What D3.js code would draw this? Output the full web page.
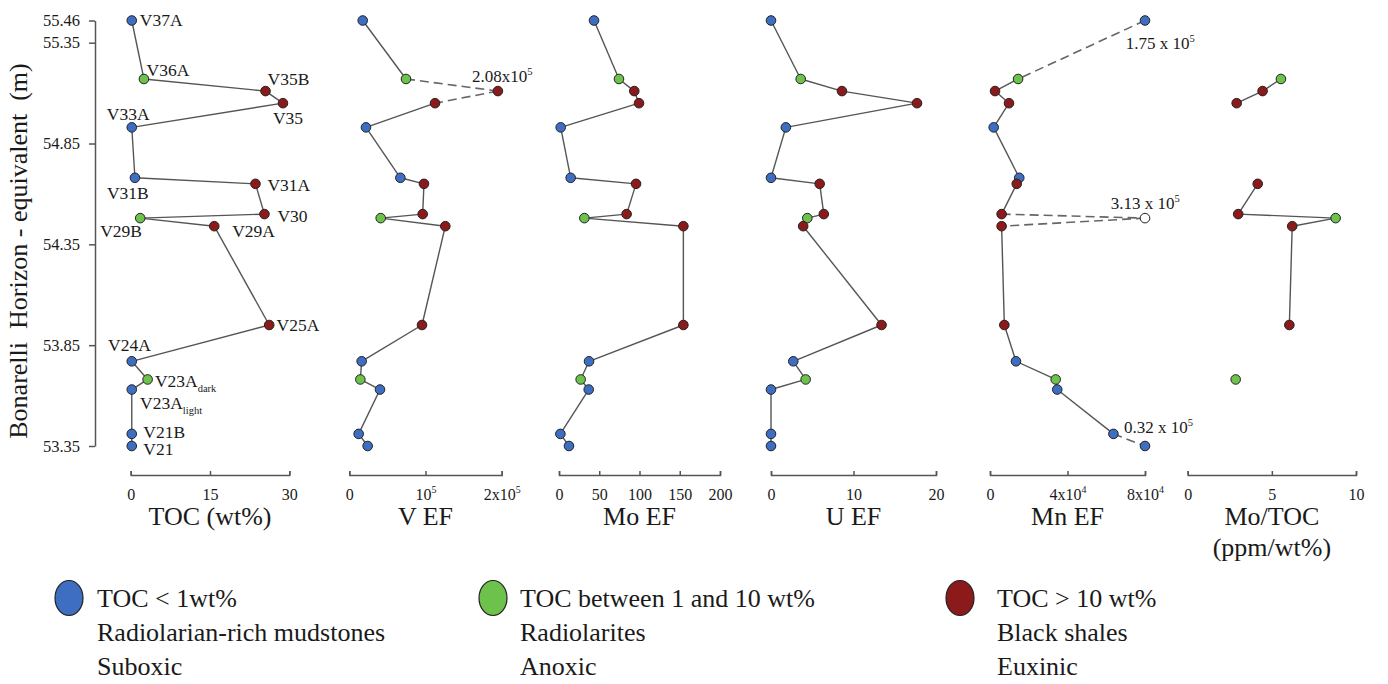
<!DOCTYPE html>
<meta charset="utf-8">
<head>
  <style>
    body { margin: 0; background: #fff; }
    svg text { font-family: "Liberation Serif", "Times New Roman", serif; fill: #1a1a1a; }
    .axis path, .axis line { stroke: #555; stroke-width: 1.5; fill: none; }
    .axis text { font-size: 16px; font-family: "Liberation Serif", serif; fill: #1a1a1a; }
    .seg { fill: none; stroke: #555; stroke-width: 1.4; }
    .dash { stroke-dasharray: 9,5; stroke-width: 1.6; stroke: #666; }
    .dot { stroke: #222; stroke-width: 1; }
    .lbl { font-size: 17.5px; }
    .title { font-size: 26px; }
    .legend { font-size: 26px; }
  </style>
  <script src="https://d3js.org/d3.v7.min.js"></script>
</head>
<body>
  <svg width="1388" height="684"></svg>
  <script>

    // samples, top to bottom
    var samples = ["V37A","V36A","V35B","V35","V33A","V31B","V31A","V30","V29B","V29A","V25A","V24A","V23A_dark","V23A_light","V21B","V21"]
    var depth = [55.46, 55.17, 55.11, 55.05, 54.93, 54.68, 54.65, 54.50, 54.48, 54.44, 53.95, 53.77, 53.68, 53.63, 53.41, 53.35]
    var toc   = [0.2, 2.5, 25.5, 28.8, 0.2, 0.8, 23.6, 25.3, 1.8, 15.8, 26.2, 0.2, 3.2, 0.2, 0.2, 0.2]
    var vEF   = [17600, 74400, 195000, 112500, 21900, 67000, 98000, 96300, 41200, 126000, 95400, 16200, 14500, 40300, 12300, 24100]
    var moEF  = [43.5, 74.5, 93.5, 99.4, 2.1, 14.5, 95.7, 84, 31.5, 154.5, 154.5, 37.3, 26.9, 36.9, 1.7, 12.4]
    var uEF   = [0, 3.6, 8.6, 17.7, 1.8, 0, 5.9, 6.4, 4.4, 3.9, 13.4, 2.7, 4.2, 0, 0, 0]
    var mnEF  = [80000, 14500, 2600, 9800, 1900, 15100, 13800, 6000, 80000, 6000, 7400, 13400, 33900, 34700, 63700, 80000]
    var moToc = [null, 5.54, 4.45, 2.91, null, null, 4.16, 3.0, 8.79, 6.21, 6.04, null, 2.85, null, null, null]

    var depthTicks = [55.46, 55.35, 54.85, 54.35, 53.85, 53.35]

    var tocTicks = [0, 15, 30],           tocTickLabels = ["0", "15", "30"]
    var vTicks = [0, 100000, 200000],     vTickLabels = ["0", "10^5", "2x10^5"]
    var moTicks = [0, 50, 100, 150, 200], moTickLabels = ["0", "50", "100", "150", "200"]
    var uTicks = [0, 10, 20],             uTickLabels = ["0", "10", "20"]
    var mnTicks = [0, 40000, 80000],      mnTickLabels = ["0", "4x10^4", "8x10^4"]
    var mtTicks = [0, 5, 10],             mtTickLabels = ["0", "5", "10"]

    var classNames = [
      ["TOC < 1wt%", "Radiolarian-rich mudstones", "Suboxic"],
      ["TOC between 1 and 10 wt%", "Radiolarites", "Anoxic"],
      ["TOC > 10 wt%", "Black shales", "Euxinic"]
    ]
    var colors = ["#3d6ec2", "#6dc24b", "#8c1a1a"]

    // off-scale values written next to the points
    var notes = [
      {panel: 1, i: 2, text: "2.08x10^5"},
      {panel: 4, i: 0, text: "1.75 x 10^5"},
      {panel: 4, i: 8, text: "3.13 x 10^5"},
      {panel: 4, i: 15, text: "0.32 x 10^5"}
    ]

    // ---- layout ----
    var svg = d3.select("svg")
    var axisY = 475

    var y = d3.scaleLinear().domain([53.35, 55.46]).range([446, 20.5])

    var panels = [
      {values: toc,   domain: [0, 30],     range: [130.7, 289.3], ticks: tocTicks, tickLabels: tocTickLabels, title: ["TOC (wt%)"], dashed: [], hollow: []},
      {values: vEF,   domain: [0, 200000], range: [349.3, 501.7], ticks: vTicks,   tickLabels: vTickLabels,   title: ["V EF"], dashed: [1, 2], hollow: []},
      {values: moEF,  domain: [0, 200],    range: [559, 720],     ticks: moTicks,  tickLabels: moTickLabels,  title: ["Mo EF"], dashed: [], hollow: []},
      {values: uEF,   domain: [0, 20],     range: [771, 936],     ticks: uTicks,   tickLabels: uTickLabels,   title: ["U EF"], dashed: [], hollow: []},
      {values: mnEF,  domain: [0, 80000],  range: [990, 1145],    ticks: mnTicks,  tickLabels: mnTickLabels,  title: ["Mn EF"], dashed: [0, 7, 8, 14], hollow: [8]},
      {values: moToc, domain: [0, 10],     range: [1187.7, 1356], ticks: mtTicks,  tickLabels: mtTickLabels,  title: ["Mo/TOC", "(ppm/wt%)"], dashed: [], hollow: []}
    ]

    // label offsets from the point in the TOC panel: [dx, dy]
    var labelOffsets = {
      "V37A": [8, 5.5], "V36A": [2.7, -3], "V35B": [2, -5.7], "V35": [-10, 20.7],
      "V33A": [-25, -7.7], "V31B": [-28, 21], "V31A": [12, 6.7], "V30": [13, 8],
      "V29B": [-40, 19], "V29A": [18, 11], "V25A": [7.4, 5.7], "V24A": [-23.7, -10.3],
      "V23A_dark": [7.3, 7.7], "V23A_light": [8.3, 19], "V21B": [11.6, 4], "V21": [11.6, 9.3]
    }
    var noteOffsets = [[-26, -8.7], [-19.3, 28.8], [-34.3, -9.4], [-21, -13]]

    function cls(i) { return toc[i] < 1 ? 0 : (toc[i] <= 10 ? 1 : 2) }

    // write "a^b" as a with superscript b
    function supText(sel, s, size) {
      var p = s.split("^")
      sel.text(null)
      sel.append("tspan").text(p[0])
      if (p.length > 1) {
        sel.append("tspan").attr("font-size", size * 0.62).attr("dy", -size * 0.42).text(p[1])
      }
    }

    // y axis
    svg.append("g")
      .attr("class", "axis")
      .attr("transform", "translate(95,0)")
      .call(d3.axisLeft(y).tickValues(depthTicks).tickFormat(d3.format(".2f")).tickSize(6).tickSizeOuter(0).tickPadding(9))
      .selectAll("text").style("font-size", "16.5px")

    svg.append("text")
      .attr("class", "title")
      .attr("transform", "translate(27,251) rotate(-90)")
      .attr("text-anchor", "middle")
      .style("white-space", "pre")
      .text("Bonarelli  Horizon - equivalent  (m)")

    panels.forEach(function(p, k) {
      var x = d3.scaleLinear().domain(p.domain).range(p.range)
      var g = svg.append("g")

      var ax = g.append("g")
        .attr("class", "axis")
        .attr("transform", "translate(0," + axisY + ")")
        .call(d3.axisBottom(x).tickValues(p.ticks).tickSizeInner(-4).tickSizeOuter(-4).tickPadding(13.6))
      ax.selectAll(".tick text").each(function(d, j) { supText(d3.select(this), p.tickLabels[j], 16) })

      p.title.forEach(function(t, j) {
        g.append("text")
          .attr("class", "title")
          .attr("x", (p.range[0] + p.range[1]) / 2)
          .attr("y", 525 + j * 31)
          .attr("text-anchor", "middle")
          .text(t)
      })

      // segments between successive samples
      for (var i = 0; i < samples.length - 1; i++) {
        if (p.values[i] == null || p.values[i + 1] == null) continue
        g.append("line")
          .attr("class", p.dashed.indexOf(i) >= 0 ? "seg dash" : "seg")
          .attr("x1", x(p.values[i])).attr("y1", y(depth[i]))
          .attr("x2", x(p.values[i + 1])).attr("y2", y(depth[i + 1]))
      }

      g.selectAll("circle")
        .data(d3.range(samples.length).filter(function(i) { return p.values[i] != null }))
        .enter().append("circle")
        .attr("class", "dot")
        .attr("cx", function(i) { return x(p.values[i]) })
        .attr("cy", function(i) { return y(depth[i]) })
        .attr("r", 4.8)
        .attr("fill", function(i) { return p.hollow.indexOf(i) >= 0 ? "#fff" : colors[cls(i)] })

      p.x = x
    })

    // sample labels
    samples.forEach(function(s, i) {
      var o = labelOffsets[s]
      var t = svg.append("text")
        .attr("class", "lbl")
        .attr("x", panels[0].x(toc[i]) + o[0])
        .attr("y", y(depth[i]) + o[1])
      var parts = s.split("_")
      t.append("tspan").text(parts[0])
      if (parts.length > 1) t.append("tspan").attr("font-size", 10.5).attr("dy", 5).text(parts[1])
    })

    // off-scale notes
    notes.forEach(function(n, j) {
      var p = panels[n.panel]
      var t = svg.append("text")
        .attr("class", "lbl")
        .style("font-size", "17px")
        .attr("x", p.x(p.values[n.i]) + noteOffsets[j][0])
        .attr("y", y(depth[n.i]) + noteOffsets[j][1])
      supText(t, n.text, 17)
    })

    // legend
    var legendX = [69, 493, 960], legendTextX = [97, 520, 997]
    classNames.forEach(function(lines, c) {
      var g = svg.append("g")
      g.append("ellipse")
        .attr("cx", legendX[c]).attr("cy", 598)
        .attr("rx", 14).attr("ry", 17.5)
        .attr("fill", colors[c]).attr("stroke", "#222").attr("stroke-width", 1.2)
      lines.forEach(function(l, j) {
        g.append("text")
          .attr("class", "legend")
          .attr("x", legendTextX[c])
          .attr("y", 607 + j * 34)
          .text(l)
      })
    })

  </script>
</body>
